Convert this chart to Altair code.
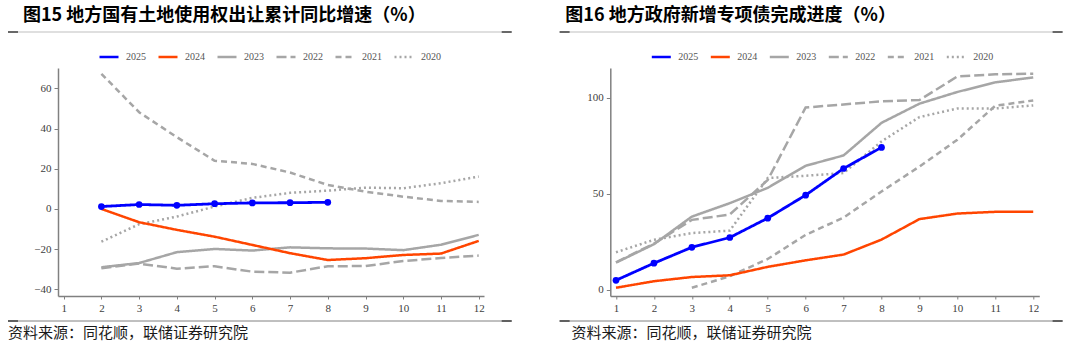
import altair as alt
import pandas as pd

months = list(range(1, 13))
years = ["2025", "2024", "2023", "2022", "2021", "2020"]
colors = ["#0000FF", "#FF4500", "#A6A6A6", "#A6A6A6", "#A6A6A6", "#A6A6A6"]
dashes = [[1, 0], [1, 0], [1, 0], [10, 4], [6, 4], [2, 3]]

# Figure 15: land use right transfer, cumulative YoY (%)
land = {
    "2025": [None, 1.2, 2.2, 1.8, 2.6, 3.0, 3.1, 3.3, None, None, None, None],
    "2024": [None, 0.0, -6.6, -10.4, -13.8, -17.9, -22.0, -25.4, -24.5, -22.9, -22.2, -15.9],
    "2023": [None, -29.0, -26.9, -21.5, -19.9, -20.7, -19.1, -19.6, -19.7, -20.5, -17.8, -12.9],
    "2022": [None, -29.5, -27.2, -29.7, -28.5, -31.2, -31.7, -28.5, -28.4, -25.9, -24.4, -23.2],
    "2021": [None, 67.2, 48.1, 35.7, 24.0, 22.4, 18.1, 11.9, 8.6, 6.1, 4.0, 3.5],
    "2020": [None, -16.3, -7.6, -3.8, 1.2, 5.5, 8.0, 9.1, 10.6, 10.3, 12.8, 16.1],
}
land_ticks = [-40, -20, 0, 20, 40, 60]

# Figure 16: new special bond issuance progress (%)
bond = {
    "2025": [4.9, 13.8, 22.1, 27.2, 37.3, 49.3, 63.2, 74.2, None, None, None, None],
    "2024": [1.0, 4.4, 6.6, 7.5, 11.9, 15.3, 18.3, 26.1, 36.8, 39.7, 40.6, 40.7],
    "2023": [14.1, 23.7, 38.1, 45.1, 53.1, 64.6, 70.0, 87.0, 97.0, 103.1, 108.1, 110.7],
    "2022": [14.3, 24.0, 36.4, 39.2, 57.2, 95.0, 96.6, 98.2, 98.9, 111.2, 112.3, 112.6],
    "2021": [None, None, 1.0, 7.0, 16.0, 28.6, 37.6, 51.2, 64.2, 78.2, 95.9, 98.7],
    "2020": [19.5, 26.0, 29.5, 30.8, 58.2, 59.4, 60.8, 77.3, 90.0, 94.5, 94.5, 96.1],
}
bond_ticks = [0, 50, 100]

title_left = "图15 地方国有土地使用权出让累计同比增速（%）"
title_right = "图16 地方政府新增专项债完成进度（%）"
source_text = "资料来源：同花顺，联储证券研究院"

LABEL_FONT = "Liberation Serif"
CJK = "Noto Sans CJK SC"


def long_df(series):
    rows = []
    for yr in reversed(years):
        for m, v in zip(months, series[yr]):
            if v is not None:
                rows.append({"month": m, "value": v, "year": yr})
    return pd.DataFrame(rows)


def one():
    return alt.Data(values=[{"a": 0}])


def panel(series, y_domain, y_ticks, x_domain, width, height, title,
          rx0, rx1, title_x, src_x, legend_x):
    df = long_df(series)
    x = alt.X("month:Q",
              scale=alt.Scale(domain=x_domain, nice=False, zero=False),
              axis=alt.Axis(values=months, format="d", title=None, grid=False,
                            domainColor="#808080", domainWidth=1.5,
                            tickColor="#808080", tickSize=3, labelPadding=3,
                            labelFont=LABEL_FONT, labelFontSize=11,
                            labelColor="#404040", labelFlush=False))
    y = alt.Y("value:Q",
              scale=alt.Scale(domain=y_domain, nice=False, zero=False),
              axis=alt.Axis(values=y_ticks, title=None, grid=False,
                            domainColor="#808080", domainWidth=1.5,
                            tickColor="#808080", tickSize=4, labelPadding=3,
                            labelFont=LABEL_FONT, labelFontSize=11,
                            labelColor="#404040"))
    leg = alt.Legend(title=None, orient="none", legendX=legend_x, legendY=-22,
                     direction="horizontal", symbolType="stroke",
                     symbolSize=361, symbolStrokeWidth=2.5,
                     labelFont=LABEL_FONT, labelFontSize=10,
                     labelColor="#555555", columnPadding=7, labelOffset=6,
                     padding=0)
    color = alt.Color("year:N", scale=alt.Scale(domain=years, range=colors),
                      legend=leg)
    dash = alt.StrokeDash("year:N", scale=alt.Scale(domain=years, range=dashes),
                          legend=leg)

    base = alt.Chart(df).encode(x=x, y=y, color=color, strokeDash=dash)
    others = base.transform_filter("datum.year != '2025'").mark_line(strokeWidth=2.5)
    cur = base.transform_filter("datum.year == '2025'").mark_line(strokeWidth=2.8)
    pts = alt.Chart(df).transform_filter("datum.year == '2025'").mark_circle(
        size=45, opacity=1, color="#0000FF").encode(x=x, y=y)

    top_rule = alt.Chart(one()).mark_rule(color="#BFBFBF", strokeWidth=1).encode(
        x=alt.value(rx0), x2=alt.value(rx1), y=alt.value(-36))
    bot_rule = alt.Chart(one()).mark_rule(color="#808080", strokeWidth=1).encode(
        x=alt.value(rx0), x2=alt.value(rx1), y=alt.value(253))
    ends = []
    for yy in (-36, 253):
        ends.append(alt.Chart(one()).mark_rule(color="#404040", strokeWidth=1.5).encode(
            x=alt.value(rx0), x2=alt.value(rx0 + 10), y=alt.value(yy)))
        ends.append(alt.Chart(one()).mark_rule(color="#404040", strokeWidth=1.5).encode(
            x=alt.value(rx1 - 10), x2=alt.value(rx1), y=alt.value(yy)))
    ttl = alt.Chart(one()).mark_text(
        text=title, font=CJK, fontSize=18, fontWeight="bold", color="#000000",
        align="left", baseline="middle").encode(x=alt.value(title_x), y=alt.value(-52))
    src = alt.Chart(one()).mark_text(
        text=source_text, font=CJK, fontSize=15, color="#1a1a1a",
        align="left", baseline="middle").encode(x=alt.value(src_x), y=alt.value(265))

    return alt.layer(top_rule, bot_rule, *ends, ttl, src, others, cur, pts).properties(
        width=width, height=height)


left = panel(land, [-43.3, 70.1], land_ticks, [0.85, 12.14], 426, 228,
             title_left, -50, 453.7, -35, -50, 40)
right = panel(bond, [-3.3, 115.6], bond_ticks, [0.85, 12.16], 429, 228,
              title_right, -50.7, 452.3, -45, -38.7, 40)

chart = alt.hconcat(left, right, spacing=45.3).resolve_scale(
    color="independent", strokeDash="independent"
).resolve_legend(
    color="independent", strokeDash="independent"
).properties(
    padding={"left": 7, "top": 7, "right": 0, "bottom": 0}
).configure_view(strokeWidth=0)

chart.save("out.html", embed_options={"renderer": "svg", "actions": False})
